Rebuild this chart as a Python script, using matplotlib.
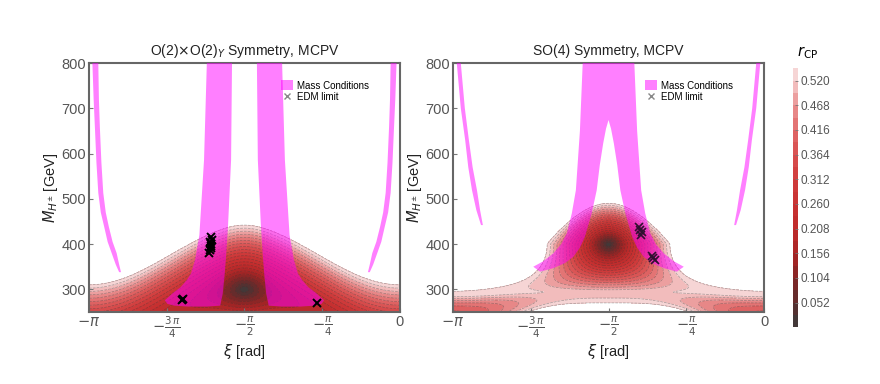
import numpy as np
import matplotlib
matplotlib.use("Agg")
from matplotlib import pyplot as plt
from matplotlib.colors import LinearSegmentedColormap
from matplotlib.patches import Patch
from matplotlib.lines import Line2D

plt.rcParams['font.family'] = ['Liberation Sans', 'DejaVu Sans']
plt.rcParams['mathtext.fontset'] = 'dejavusans'

# ---- axis / colour bar ticks
xi_ticks = [-np.pi, -3*np.pi/4, -np.pi/2, -np.pi/4, 0]
xi_labels = [r'$-\pi$', r'$-\frac{3\,\pi}{4}$', r'$-\frac{\pi}{2}$', r'$-\frac{\pi}{4}$', '0']
m_ticks = [300, 400, 500, 600, 700, 800]
rcp_ticks = [0.052, 0.104, 0.156, 0.208, 0.260, 0.312, 0.364, 0.416, 0.468, 0.520]
rcp_levels = np.round(np.arange(0, 0.547, 0.026), 3)
titles = [r'O(2)$\times$O(2)$_Y$ Symmetry, MCPV', 'SO(4) Symmetry, MCPV']

# ---- r_CP surface parameters
# left: minimum at (-pi/2, 300), bell shaped ridge
L_m0, L_mshift, L_h, L_xslope, L_xedge = 300, 122, 260, 0.57, 0.20
# right: minimum at (-pi/2, 400), widening towards the bottom, plus a shallow valley
R_m0, R_hup, R_hdown, R_xslope, R_flare = 400, 165, 204, 0.94, 117
R_v0, R_v1, R_vm, R_vshift, R_vh0, R_vh1 = 0.52, 0.135, 283, 38, 80, 25

# ---- mass-condition bands (xi in units of pi), left half; right half mirrored
# left panel, thin outer curve
L_thin_m = [800, 720, 659, 580, 513, 470, 438, 405, 380, 355, 338]
L_thin_out = [-0.989, -0.985, -0.981, -0.976, -0.970, -0.962, -0.951, -0.940, -0.927, -0.914, -0.903]
L_thin_in = [-0.970, -0.968, -0.965, -0.960, -0.954, -0.946, -0.936, -0.924, -0.911, -0.903, -0.897]
# left panel, wide central band (outer edge top->tip, bottom, inner edge bottom->top)
L_band_out_m = [800, 586, 420, 365, 335, 321, 305, 292, 282, 276]
L_band_out = [-0.621, -0.630, -0.645, -0.659, -0.672, -0.685, -0.705, -0.730, -0.746, -0.756]
L_band_bot_m = [268, 264, 262, 262, 264]
L_band_bot = [-0.748, -0.725, -0.680, -0.620, -0.578]
L_band_in_m = [290, 330, 365, 438, 586, 800]
L_band_in = [-0.570, -0.564, -0.560, -0.553, -0.543, -0.540]
# right panel, thin outer curve
R_thin_m = [800, 700, 630, 570, 519, 475, 442]
R_thin_out = [-0.988, -0.975, -0.961, -0.951, -0.939, -0.925, -0.910]
R_thin_in = [-0.975, -0.962, -0.949, -0.937, -0.923, -0.913, -0.904]
# right panel, forked central band
R_band_out_m = [800, 650, 519, 468, 424, 400, 380, 362, 350]
R_band_out = [-0.583, -0.592, -0.605, -0.618, -0.634, -0.652, -0.677, -0.710, -0.742]
R_band_in_m = [339, 347, 358, 372, 392, 416, 468, 519, 575, 623, 655, 674]
R_band_in = [-0.720, -0.677, -0.640, -0.613, -0.592, -0.576, -0.554, -0.538, -0.528, -0.517, -0.508, -0.500]

# ---- EDM limit points (xi in units of pi, M in GeV)
L_edm_xi = [-0.613, -0.612, -0.609, -0.607, -0.610, -0.605, -0.606, -0.608, -0.702, -0.699, -0.268]
L_edm_m = [380, 388, 395, 400, 405, 410, 416, 392, 276, 279, 270]
R_edm_xi = [-0.403, -0.398, -0.393, -0.396, -0.356, -0.352, -0.360]
R_edm_m = [438, 432, 426, 421, 369, 365, 373]

cmap = LinearSegmentedColormap.from_list('rcp', [
    (0.0, '#3c3c3c'), (0.048, '#4a3434'), (0.095, '#5c2e2e'), (0.19, '#852626'),
    (0.286, '#aa2525'), (0.38, '#bf2c2c'), (0.476, '#c83232'), (0.57, '#d03c3c'),
    (0.67, '#d85050'), (0.76, '#e06868'), (0.857, '#e99090'), (0.95, '#f4c8c8'),
    (1.0, '#f8e0e0')])

xi = np.linspace(-np.pi, 0, 600)
mm = np.linspace(250, 800, 600)
XI, MM = np.meshgrid(xi, mm)
S = np.sin(XI + np.pi/2)

def left_field():
    s2 = S**2
    k = 2.8
    xterm = L_xedge * np.tanh(k*np.abs(S)) / np.tanh(k) * (L_xslope / (L_xedge*k/np.tanh(k)))**(1 - np.abs(S))
    yterm = (MM - (L_m0 - L_mshift*s2)) / L_h
    return np.sqrt(xterm**2 + yterm**2)

def right_field():
    below = np.clip((R_m0 - MM)/R_flare, 0, 1)
    fac = np.where(MM >= R_m0, 1 + 0.5*(MM - R_m0)/100, 1 - below**2)
    xterm = R_xslope * np.abs(S) * fac
    h = np.where(MM > R_m0, R_hup, R_hdown)
    yterm = (MM - R_m0) / h
    rc = np.sqrt(xterm**2 + yterm**2)
    s4 = S**4
    rv = R_v0 - R_v1*s4 + ((MM - (R_vm - R_vshift*s4)) / (R_vh0 + R_vh1*s4))**2
    kk = 0.02
    return -kk*np.log(np.exp(-rc/kk) + np.exp(-rv/kk))

def mirror(v):
    return [-1 - x for x in v]

def band(ax, xs, ms):
    ax.fill(np.array(xs)*np.pi, ms, color='#ff00ff', alpha=0.5, lw=0, zorder=3)

fig = plt.figure(figsize=(8.8, 3.84), dpi=100)
axL = fig.add_axes([0.1011, 0.1875, 0.3534, 0.6484])
axR = fig.add_axes([0.5148, 0.1875, 0.3534, 0.6484])
cax = fig.add_axes([0.901, 0.148, 0.0057, 0.674])

for ax, field in [(axL, left_field()), (axR, right_field())]:
    cf = ax.contourf(XI, MM, field, levels=rcp_levels, cmap=cmap, zorder=1)
    ax.contour(XI, MM, field, levels=rcp_levels[1:], colors='#333333',
               linewidths=0.5, linestyles=[(0, (4, 1.5))], alpha=0.4, zorder=2)

# left bands
band(axL, L_thin_out + L_thin_in[::-1], L_thin_m + L_thin_m[::-1])
band(axL, mirror(L_thin_out) + mirror(L_thin_in)[::-1], L_thin_m + L_thin_m[::-1])
lx = L_band_out + L_band_bot + L_band_in
lm = L_band_out_m + L_band_bot_m + L_band_in_m
band(axL, lx, lm)
band(axL, mirror(lx), lm)
# right bands
band(axR, R_thin_out + R_thin_in[::-1], R_thin_m + R_thin_m[::-1])
band(axR, mirror(R_thin_out) + mirror(R_thin_in)[::-1], R_thin_m + R_thin_m[::-1])
rx = R_band_out + R_band_in + mirror(R_band_in)[::-1] + mirror(R_band_out)[::-1]
rm = R_band_out_m + R_band_in_m + R_band_in_m[::-1] + R_band_out_m[::-1]
band(axR, rx, rm)

axL.plot(np.array(L_edm_xi)*np.pi, L_edm_m, 'x', color='k', ms=6, mew=1.4, zorder=4)
axR.plot(np.array(R_edm_xi)*np.pi, R_edm_m, 'x', color='#301030', ms=6, mew=1.2, zorder=4)

handles = [Patch(facecolor='#ff00ff', alpha=0.5, lw=0),
           Line2D([], [], marker='x', ls='', color='#888888', ms=5)]
for ax, title in [(axL, titles[0]), (axR, titles[1])]:
    ax.set_xlim(-np.pi, 0)
    ax.set_ylim(250, 800)
    ax.set_xticks(xi_ticks)
    ax.set_xticklabels(xi_labels)
    ax.set_yticks(m_ticks)
    ax.tick_params(direction='in', length=3, color='#777777', labelcolor='#555555', labelsize=10.5, pad=2)
    for sp in ax.spines.values():
        sp.set_color('#666666')
        sp.set_linewidth(1.5)
    ax.set_title(title, fontsize=10, color='#222222', pad=6)
    ax.set_xlabel(r'$\xi$ [rad]', fontsize=10.5, color='#222222', labelpad=1)
    ax.set_ylabel(r'$M_{H^{\pm}}$ [GeV]', fontsize=10.5, color='#222222', labelpad=1)
    ax.legend(handles, ['Mass Conditions', 'EDM limit'], loc='upper left',
              bbox_to_anchor=(0.59, 0.965), frameon=False, fontsize=7,
              handlelength=1.2, handleheight=1.2, handletextpad=0.4, labelspacing=0.1)

cb = fig.colorbar(cf, cax=cax, ticks=rcp_ticks)
cb.ax.set_yticklabels(['%.3f' % t for t in rcp_ticks])
cb.ax.tick_params(labelsize=8.5, labelcolor='#555555', color='#777777', length=2, width=0.6,
                  direction='in', pad=2)
cb.outline.set_visible(False)
cb.ax.text(0.9, 1.03, r'$r_{\rm CP}$', transform=cb.ax.transAxes, fontsize=10.5, ha='left', va='bottom')

plt.savefig('out.png', dpi=100)
